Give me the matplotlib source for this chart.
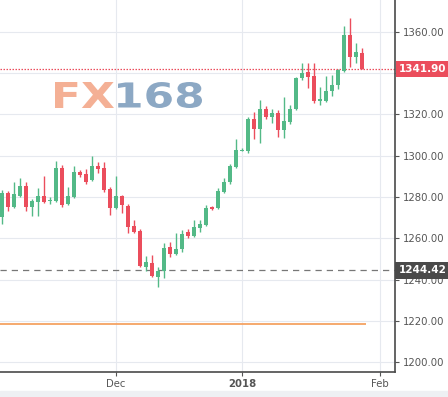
import numpy as np
import pandas as pd
import matplotlib
matplotlib.use("Agg")
import matplotlib.pyplot as plt
import matplotlib.transforms as mtransforms
from matplotlib.patches import Rectangle, PathPatch
from matplotlib.textpath import TextPath
from matplotlib.font_manager import FontProperties

# daily gold candles, 6 Nov 2017 .. 29 Jan 2018 (weekdays)
start = "2017-11-06"
opens = [1270.5, 1282.0, 1275.3, 1280.6, 1285.3, 1275.3, 1277.7, 1280.5, 1277.9, 1278.1,
         1293.9, 1276.6, 1280.2, 1292.3, 1291.1, 1288.2, 1295.0, 1293.9, 1283.9, 1274.5,
         1280.5, 1275.6, 1266.0, 1263.7, 1246.3, 1247.9, 1241.4, 1244.3, 1255.6, 1252.4,
         1254.8, 1262.9, 1261.1, 1264.8, 1266.6, 1275.0, 1274.5, 1282.6, 1287.0, 1294.7,
         1302.3, 1302.4, 1317.6, 1312.7, 1322.4, 1318.9, 1320.8, 1312.4, 1316.5, 1322.4,
         1337.4, 1340.7, 1338.6, 1326.6, 1326.6, 1331.5, 1334.2, 1341.1, 1358.4, 1347.9,
         1349.5]
highs = [1283.5, 1283.0, 1287.4, 1289.0, 1287.4, 1278.8, 1284.2, 1290.2, 1280.2, 1297.6,
         1295.5, 1285.0, 1295.0, 1293.0, 1293.4, 1300.0, 1297.1, 1296.8, 1284.7, 1290.2,
         1281.0, 1276.6, 1268.9, 1264.5, 1251.4, 1251.9, 1245.9, 1257.6, 1258.4, 1262.4,
         1264.0, 1264.3, 1268.9, 1268.9, 1276.1, 1275.5, 1284.2, 1289.0, 1296.0, 1307.9,
         1303.5, 1318.6, 1321.3, 1327.0, 1324.0, 1322.5, 1322.0, 1328.2, 1324.5, 1338.2,
         1344.7, 1344.7, 1344.7, 1333.1, 1338.6, 1339.0, 1341.9, 1362.8, 1366.5, 1354.4,
         1352.0]
lows = [1267.0, 1273.0, 1274.5, 1280.0, 1273.4, 1270.8, 1270.8, 1276.9, 1276.6, 1277.5,
        1275.3, 1276.0, 1279.5, 1289.5, 1286.3, 1287.5, 1291.5, 1282.6, 1271.3, 1274.0,
        1272.0, 1262.4, 1262.5, 1246.0, 1244.3, 1241.4, 1236.6, 1240.6, 1251.1, 1251.9,
        1253.5, 1260.0, 1260.8, 1263.2, 1266.0, 1273.8, 1274.0, 1282.0, 1286.5, 1294.0,
        1302.0, 1301.5, 1307.9, 1306.0, 1317.5, 1316.0, 1309.2, 1308.4, 1315.5, 1322.0,
        1336.6, 1332.6, 1325.3, 1324.5, 1326.0, 1328.9, 1332.0, 1340.7, 1343.1, 1344.7,
        1341.9]
closes = [1282.0, 1275.3, 1281.5, 1285.3, 1275.0, 1278.1, 1280.5, 1277.7, 1278.5, 1293.9,
          1276.1, 1280.5, 1292.3, 1290.6, 1287.4, 1295.0, 1293.5, 1283.4, 1274.5, 1280.5,
          1276.1, 1265.6, 1263.2, 1246.6, 1248.7, 1241.9, 1244.3, 1255.2, 1252.4, 1254.8,
          1262.1, 1261.3, 1265.3, 1266.9, 1274.5, 1274.4, 1283.1, 1287.4, 1295.0, 1302.7,
          1302.7, 1317.6, 1312.7, 1322.4, 1318.9, 1320.8, 1312.4, 1316.8, 1322.6, 1337.4,
          1340.2, 1338.2, 1326.6, 1327.2, 1331.5, 1334.2, 1341.5, 1358.4, 1347.9, 1349.9,
          1341.9]

last_price = 1341.90
ref_price = 1244.42
ma_level = 1218.5
month_ticks = ["2017-12-01", "2018-01-01", "2018-02-01"]
month_labels = ["Dec", "2018", "Feb"]
y_ticks = list(range(1200, 1361, 20))

UP = "#53b987"
DOWN = "#eb4d5c"

df = pd.DataFrame({"Open": opens, "High": highs, "Low": lows, "Close": closes},
                  index=pd.bdate_range(start, periods=len(opens)))
x = np.arange(len(df))
up = df.Close >= df.Open
colors = np.where(up, UP, DOWN)

fig = plt.figure(figsize=(4.48, 3.97), dpi=100)
ax = fig.add_axes([0.0, 0.063, 0.8817, 0.937])

ax.vlines(x, df.Low, df.High, color=colors, linewidth=1, zorder=3)
body_lo = np.minimum(df.Open, df.Close)
body_h = np.maximum((df.Close - df.Open).abs(), 0.6)
ax.bar(x, body_h, bottom=body_lo, width=0.78, color=colors, linewidth=0, zorder=4)

# price lines
ax.axhline(last_price, color=DOWN, linestyle=(0, (1.2, 1.2)), linewidth=0.9, zorder=2)
ax.axhline(ref_price, color="#777777", linestyle=(0, (5, 4)), linewidth=0.9, zorder=2)
ax.hlines(ma_level, -1, x[-1] + 0.7, color="#f5a262", linewidth=1.3, zorder=2)

# x axis on trading-day index
days = pd.bdate_range(start, "2018-02-05")
xpos = [days.get_loc(pd.Timestamp(d)) for d in month_ticks]
ax.set_xticks(xpos)
ax.set_xticklabels(month_labels)
ax.get_xticklabels()[1].set_fontweight("bold")
ax.get_xticklabels()[1].set_color("#333333")
ax.set_xlim(-0.33, 65.5)
ax.set_ylim(1195.3, 1375.3)

# 1340 label sits under the last-price tag, as in the original
ax.yaxis.tick_right()
ax.set_yticks(y_ticks)
ax.set_yticklabels(["" if abs(v - last_price) < 5 else f"{v:.2f}" for v in y_ticks])
ax.tick_params(axis="both", colors="#555555", labelsize=7.3, length=3, width=0.8,
               labelcolor="#555555")
ax.tick_params(axis="y", pad=3)
ax.tick_params(axis="x", pad=2)

ax.grid(True, color="#e6e9ef", linewidth=0.8, zorder=0)
ax.set_axisbelow(True)
for s in ["top", "left"]:
    ax.spines[s].set_visible(False)
for s in ["right", "bottom"]:
    ax.spines[s].set_color("#4a4a4a")
    ax.spines[s].set_linewidth(1.2)

# price tags on the right axis
trans = mtransforms.blended_transform_factory(ax.transAxes, ax.transData)
ax.text(1.01, last_price, f"{last_price:.2f}", transform=trans, ha="left", va="center",
        color="white", fontsize=7.5, fontweight="bold", zorder=10, clip_on=False,
        bbox=dict(boxstyle="square,pad=0.3", fc=DOWN, ec="none"))
ax.text(1.01, ref_price, f"{ref_price:.2f}", transform=trans, ha="left", va="center",
        color="white", fontsize=7.5, fontweight="bold", zorder=10, clip_on=False,
        bbox=dict(boxstyle="square,pad=0.35", fc="#4a4a4a", ec="none"))


# watermark, stretched wide like the logo (box in pixels: x0, x1, y_top, y_bottom)
def logo_part(text, color, x0, x1, ytop, ybot):
    tp = TextPath((0, 0), text, size=36, prop=FontProperties(family="DejaVu Sans", weight="bold"))
    ext = tp.get_extents()
    sx = (x1 - x0) / ext.width
    sy = (ybot - ytop) / ext.height
    H = 397
    tr = (mtransforms.Affine2D().translate(-ext.x0, -ext.y0).scale(sx, sy)
          .translate(x0, H - ybot))
    patch = PathPatch(tr.transform_path(tp), fc=color, ec="none", lw=0,
                      transform=mtransforms.IdentityTransform(), zorder=1)
    fig.add_artist(patch)


logo_part("FX", "#f4b095", 55, 114, 82, 108)
logo_part("168", "#8ca8c4", 118, 202, 82, 108)

fig.add_artist(Rectangle((0, 0), 1, 6 / 397, transform=fig.transFigure,
                         color="#eef0f3", zorder=0))

plt.savefig("out.png", dpi=100)
